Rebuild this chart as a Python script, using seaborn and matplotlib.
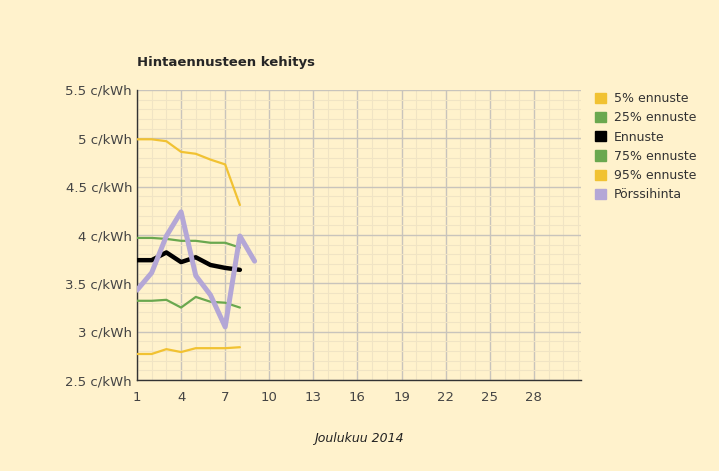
import matplotlib.pyplot as plt
import matplotlib.ticker as mticker
from matplotlib.patches import Patch
import seaborn as sns

days = [1, 2, 3, 4, 5, 6, 7, 8]
p5 = [2.77, 2.77, 2.82, 2.79, 2.83, 2.83, 2.83, 2.84]
p25 = [3.32, 3.32, 3.33, 3.25, 3.36, 3.31, 3.30, 3.25]
ennuste = [3.74, 3.74, 3.82, 3.72, 3.77, 3.69, 3.66, 3.64]
p75 = [3.97, 3.97, 3.96, 3.94, 3.94, 3.92, 3.92, 3.87]
p95 = [4.99, 4.99, 4.97, 4.86, 4.84, 4.78, 4.73, 4.31]
spot_days = [1, 2, 3, 4, 5, 6, 7, 8, 9]
spot = [3.43, 3.61, 3.99, 4.24, 3.58, 3.38, 3.05, 3.99, 3.73]

bg = '#fff2cc'
yellow = '#f1c232'
green = '#6aa84f'
purple = '#b4a7d6'

sns.set_style('white')
plt.rcParams['font.family'] = ['DejaVu Sans']

fig = plt.figure(figsize=(7.19, 4.71), dpi=100, facecolor=bg)
ax = fig.add_axes([0.1905, 0.193, 0.6175, 0.616], facecolor=bg)

series = [
    ('5% ennuste', days, p5, yellow, 1.6),
    ('25% ennuste', days, p25, green, 1.6),
    ('Ennuste', days, ennuste, 'black', 3.2),
    ('75% ennuste', days, p75, green, 1.6),
    ('95% ennuste', days, p95, yellow, 1.6),
    ('Pörssihinta', spot_days, spot, purple, 3.6),
]
for name, x, y, c, lw in series:
    sns.lineplot(x=x, y=y, ax=ax, color=c, linewidth=lw, legend=False, zorder=3)

ax.set_xlim(1, 31.2)
ax.set_ylim(2.5, 5.5)
ax.xaxis.set_major_locator(mticker.FixedLocator(range(1, 31, 3)))
ax.xaxis.set_minor_locator(mticker.MultipleLocator(1))
ax.yaxis.set_major_locator(mticker.MultipleLocator(0.5))
ax.yaxis.set_minor_locator(mticker.MultipleLocator(0.1))
ax.yaxis.set_major_formatter(mticker.FuncFormatter(lambda v, p: f'{v:g} c/kWh'))
ax.grid(which='major', color='#c8c4bc', linewidth=1)
ax.grid(which='minor', color='#f0e4c4', linewidth=0.8)
ax.set_axisbelow(True)
ax.tick_params(which='both', length=0, labelsize=9.5, colors='#444444')
ax.tick_params(axis='x', pad=8)
for s in ['top', 'right']:
    ax.spines[s].set_visible(False)
for s in ['left', 'bottom']:
    ax.spines[s].set_color('#333333')
    ax.spines[s].set_linewidth(1)

ax.set_xlabel('Joulukuu 2014', fontstyle='italic', fontsize=9, labelpad=20, color='#222222')
fig.text(0.1905, 0.86, 'Hintaennusteen kehitys', fontweight='bold', fontsize=9.5)

handles = [Patch(facecolor=c, edgecolor=c, label=n) for n, _, _, c, _ in series]
ax.legend(handles=handles, loc='upper left', bbox_to_anchor=(1.02, 1.01), frameon=False,
          fontsize=9, handlelength=0.9, handleheight=0.9, handletextpad=0.6,
          labelspacing=0.5, borderaxespad=0, labelcolor='#333333')

fig.savefig('out.png', dpi=100, facecolor=bg)
